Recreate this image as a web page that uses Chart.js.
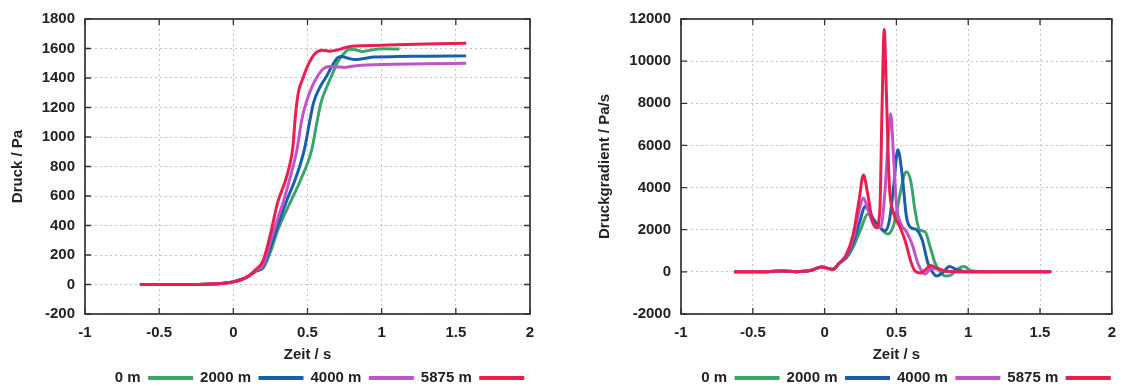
<!DOCTYPE html>
<html>
<head>
<meta charset="utf-8">
<script src="https://cdn.jsdelivr.net/npm/chart.js@4"></script>
<style>
  html, body { margin: 0; padding: 0; background: #fff; }
  body { width: 1126px; height: 387px; position: relative; overflow: hidden; }
  .box { position: absolute; top: 0; width: 563px; height: 387px; }
</style>
</head>
<body>
<div class="box" style="left:0"><canvas id="druckChart"></canvas></div>
<div class="box" style="left:563px"><canvas id="gradChart"></canvas></div>
<script>
// series names and colours
const names = ['0 m', '2000 m', '4000 m', '5875 m'];
const colors = ['#3aa56a', '#1b5fab', '#bf55c8', '#e8204f'];

// tick values
const xTicks = [-1, -0.5, 0, 0.5, 1, 1.5, 2];
const druckTicks = [-200, 0, 200, 400, 600, 800, 1000, 1200, 1400, 1600, 1800];
const gradTicks = [-2000, 0, 2000, 4000, 6000, 8000, 10000, 12000];

// Druck (Pa) over Zeit (s)
const druckT0 = [-0.63, -0.3, -0.1, 0, 0.05, 0.1, 0.15, 0.2, 0.25, 0.3, 0.39, 0.45, 0.53, 0.56, 0.59, 0.63, 0.66, 0.71, 0.75, 0.78, 0.82, 0.87, 0.93, 1.0, 1.12];
const druck0 = [0, 0, 5, 18, 32, 55, 90, 110, 220, 370, 570, 700, 920, 1080, 1230, 1340, 1410, 1520, 1570, 1595, 1592, 1580, 1590, 1598, 1597];
const druckT2000 = [-0.63, -0.3, -0.1, 0, 0.05, 0.1, 0.15, 0.2, 0.25, 0.3, 0.36, 0.42, 0.48, 0.51, 0.54, 0.58, 0.63, 0.67, 0.7, 0.73, 0.77, 0.82, 0.87, 0.95, 1.1, 1.3, 1.57];
const druck2000 = [0, 0, 5, 18, 32, 55, 90, 120, 250, 400, 570, 720, 920, 1080, 1230, 1330, 1415, 1490, 1535, 1545, 1535, 1525, 1530, 1543, 1545, 1548, 1550];
const druckT4000 = [-0.63, -0.3, -0.1, 0, 0.05, 0.1, 0.15, 0.2, 0.25, 0.3, 0.34, 0.4, 0.43, 0.46, 0.49, 0.53, 0.57, 0.61, 0.65, 0.7, 0.75, 0.8, 0.9, 1.0, 1.3, 1.57];
const druck4000 = [0, 0, 5, 18, 32, 55, 95, 130, 290, 450, 570, 790, 920, 1110, 1230, 1340, 1415, 1465, 1478, 1475, 1472, 1480, 1488, 1492, 1496, 1500];
const druckT5875 = [-0.63, -0.3, -0.1, 0, 0.05, 0.1, 0.15, 0.2, 0.25, 0.3, 0.35, 0.38, 0.4, 0.42, 0.44, 0.47, 0.5, 0.55, 0.6, 0.65, 0.7, 0.75, 0.8, 1.0, 1.3, 1.57];
const druck5875 = [0, 0, 5, 18, 32, 55, 100, 160, 340, 560, 700, 810, 920, 1160, 1310, 1400, 1480, 1565, 1588, 1582, 1590, 1605, 1615, 1622, 1630, 1636];

// Druckgradient (Pa/s) over Zeit (s)
const gradT0 = [-0.63, -0.45, -0.3, -0.2, -0.1, -0.02, 0.03, 0.06, 0.1, 0.15, 0.2, 0.25, 0.3, 0.34, 0.38, 0.44, 0.48, 0.52, 0.55, 0.57, 0.6, 0.63, 0.66, 0.7, 0.73, 0.77, 0.8, 0.84, 0.88, 0.92, 0.97, 1.02, 1.12];
const grad0 = [0, 0, 40, 10, 60, 230, 150, 120, 400, 650, 1200, 2000, 2750, 2500, 2150, 1800, 2200, 3500, 4500, 4750, 4300, 2900, 2000, 1900, 1300, 400, 50, -200, -150, 100, 250, 50, 0];
const gradT2000 = [-0.63, -0.45, -0.3, -0.2, -0.1, -0.02, 0.03, 0.06, 0.1, 0.15, 0.2, 0.25, 0.28, 0.31, 0.34, 0.38, 0.42, 0.45, 0.48, 0.51, 0.54, 0.57, 0.6, 0.64, 0.68, 0.72, 0.75, 0.78, 0.82, 0.87, 0.92, 1.0, 1.57];
const grad2000 = [0, 0, 40, 10, 60, 230, 150, 120, 400, 700, 1400, 2500, 3100, 2900, 2500, 2150, 1950, 2400, 4000, 5800, 4600, 2600, 2100, 2000, 1500, 400, 0, -200, -50, 250, 100, 0, 0];
const gradT4000 = [-0.63, -0.45, -0.3, -0.2, -0.1, -0.02, 0.03, 0.06, 0.1, 0.15, 0.2, 0.24, 0.27, 0.3, 0.33, 0.36, 0.39, 0.42, 0.445, 0.46, 0.48, 0.5, 0.53, 0.57, 0.61, 0.65, 0.68, 0.7, 0.74, 0.78, 0.85, 1.0, 1.57];
const grad4000 = [0, 0, 40, 10, 60, 230, 150, 120, 400, 750, 1600, 2900, 3500, 3000, 2400, 2100, 2100, 3800, 6500, 7500, 5500, 3200, 2300, 1900, 1300, 400, 0, -100, 150, 150, 20, 0, 0];
const gradT5875 = [-0.63, -0.45, -0.3, -0.2, -0.1, -0.02, 0.03, 0.06, 0.1, 0.15, 0.2, 0.24, 0.27, 0.3, 0.33, 0.36, 0.385, 0.4, 0.415, 0.43, 0.45, 0.48, 0.52, 0.56, 0.6, 0.63, 0.67, 0.71, 0.74, 0.78, 0.85, 1.0, 1.3, 1.58];
const grad5875 = [0, 0, 40, 10, 60, 230, 150, 120, 400, 800, 1800, 3400, 4600, 3700, 2500, 2100, 3000, 7800, 11500, 8500, 4200, 2800, 2200, 1500, 500, 30, -50, 150, 300, 180, 30, 0, 0, 0];

const zip = (ts, vs) => ts.map((t, i) => ({ x: t, y: vs[i] }));

Chart.defaults.font.family = "'Liberation Sans', Arial, sans-serif";
Chart.defaults.font.weight = 'bold';
Chart.defaults.font.size = 15;
Chart.defaults.color = '#222';

// gnuplot-like frame with inward ticks
const frameTicks = {
  id: 'frameTicks',
  afterDatasetsDraw(chart) {
    const { ctx, chartArea: a, scales: { x, y } } = chart;
    ctx.save();
    ctx.strokeStyle = '#333';
    ctx.lineWidth = 1.3;
    ctx.beginPath();
    x.ticks.forEach(t => {
      const px = x.getPixelForValue(t.value);
      ctx.moveTo(px, a.bottom); ctx.lineTo(px, a.bottom - 6);
      ctx.moveTo(px, a.top); ctx.lineTo(px, a.top + 6);
    });
    y.ticks.forEach(t => {
      const py = y.getPixelForValue(t.value);
      ctx.moveTo(a.left, py); ctx.lineTo(a.left + 6, py);
      ctx.moveTo(a.right, py); ctx.lineTo(a.right - 6, py);
    });
    ctx.stroke();
    ctx.lineWidth = 1.7;
    ctx.strokeRect(a.left, a.top, a.right - a.left, a.bottom - a.top);
    ctx.restore();
  }
};

// move the legend sideways
const legendShift = {
  id: 'legendShift',
  afterLayout(chart, args, opts) {
    const l = chart.legend;
    if (l && opts.dx) { l.left += opts.dx; l.right += opts.dx; }
  }
};

function makeChart(id, series, ticksY, yTitle, yWidth, titlePad, padRight, dx) {
  const datasets = series.map((s, i) => ({
    label: names[i],
    data: s,
    borderColor: colors[i],
    backgroundColor: colors[i],
    borderWidth: 3,
    pointRadius: 0,
    cubicInterpolationMode: 'monotone',
    order: 4 - i,
  }));
  return new Chart(document.getElementById(id), {
    type: 'line',
    data: { datasets },
    plugins: [frameTicks, legendShift],
    options: {
      responsive: true,
      maintainAspectRatio: false,
      animation: false,
      layout: { padding: { left: 0, right: padRight, top: 14, bottom: 0 } },
      scales: {
        x: {
          type: 'linear',
          min: -1, max: 2,
          afterBuildTicks: s => { s.ticks = xTicks.map(v => ({ value: v })); },
          afterFit: s => { s.height = 49.5; },
          ticks: { padding: 10, callback: v => String(v), font: { size: 15 } },
          grid: { color: '#c4c4c4', lineWidth: 1, drawTicks: false },
          border: { display: false, dash: [2, 3] },
          title: { display: true, text: 'Zeit / s', padding: { top: 0, bottom: 0 }, font: { size: 15 } },
        },
        y: {
          type: 'linear',
          min: ticksY[0], max: ticksY[ticksY.length - 1],
          afterBuildTicks: s => { s.ticks = ticksY.map(v => ({ value: v })); },
          afterFit: s => { s.width = yWidth; },
          ticks: { padding: 10, callback: v => String(v), font: { size: 15 } },
          grid: { color: '#c4c4c4', lineWidth: 1, drawTicks: false },
          border: { display: false, dash: [2, 3] },
          title: { display: true, text: yTitle, padding: { top: titlePad, bottom: 0 }, font: { size: 15 } },
        },
      },
      plugins: {
        legendShift: { dx },
        tooltip: { enabled: false },
        legend: {
          position: 'bottom',
          rtl: true,
          textDirection: 'ltr',
          maxHeight: 23.5,
          labels: {
            boxWidth: 45,
            boxHeight: 4,
            padding: 7,
            color: '#222',
            font: { size: 15 },
            generateLabels: chart => Chart.defaults.plugins.legend.labels.generateLabels(chart)
              .map(l => Object.assign(l, { lineWidth: 0, fillStyle: l.strokeStyle })),
          },
        },
      },
    },
  });
}

makeChart('druckChart',
  [zip(druckT0, druck0), zip(druckT2000, druck2000), zip(druckT4000, druck4000), zip(druckT5875, druck5875)],
  druckTicks, 'Druck / Pa', 85, 9, 33, 54.5);

makeChart('gradChart',
  [zip(gradT0, grad0), zip(gradT2000, grad2000), zip(gradT4000, grad4000), zip(gradT5875, grad5875)],
  gradTicks, 'Druckgradient / Pa/s', 118, 33, 11, 67);
</script>
</body>
</html>
